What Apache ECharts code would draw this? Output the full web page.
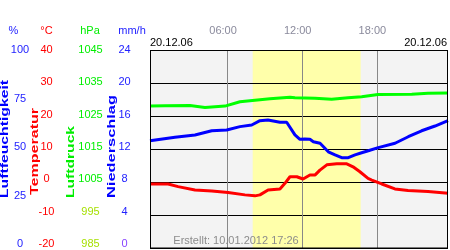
<!DOCTYPE html>
<html><head><meta charset="utf-8">
<script src="https://cdn.jsdelivr.net/npm/echarts@6/dist/echarts.min.js"></script>
<style>html,body{margin:0;padding:0;background:#fff}#c{width:450px;height:250px}</style>
</head><body><div id="c"></div>
<script>
// ---- data (hours of the day, values) ----
const tempHours = [-0.15,1.3,2.1,3.45,4.8,6.1,7.45,8.25,8.65,9.3,10.25,10.65,11.05,11.6,12.1,12.65,13.05,13.45,14.0,14.8,15.6,16.1,16.65,17.3,17.6,18.4,19.45,20.5,22.1,23.7];
const tempValues = [-0.6,-0.6,-1.4,-2.4,-2.7,-3.2,-3.9,-4.2,-3.9,-2.4,-2.1,-0.4,1.6,1.6,0.9,2.1,2.1,3.6,5.2,5.5,5.5,4.6,3.1,1.1,0.6,-0.6,-2.1,-2.6,-2.9,-3.4];
const humHours = [-0.15,1.85,3.45,4.79,5.99,7.05,7.99,8.65,9.29,10.25,10.79,11.45,11.85,12.25,12.65,12.92,13.46,14.12,14.66,15.19,15.72,16.26,16.79,17.32,18.12,19.46,20.52,21.59,22.66,23.7];
const humValues = [54.2,55.9,57.1,59.2,59.6,61.3,62.1,64.3,64.6,63.5,63.5,57.1,54.9,55.0,54.9,53.7,52.9,48.6,47.0,45.6,45.6,47.0,48.1,49.1,50.7,52.9,56.2,59.2,61.6,64.3];
const presHours = [-0.15,1.05,3.05,4.25,5.85,7.05,8.25,9.45,11.05,11.45,13.05,14.39,15.7,16.79,18.1,20.8,22.1,23.7];
const presValues = [1028.0,1028.1,1028.2,1027.6,1028.0,1029.3,1029.8,1030.2,1030.7,1030.5,1030.4,1030.1,1030.5,1030.8,1031.5,1031.6,1031.9,1032.0];
const daylight = [8.07, 16.71];
const hourLines = [6, 12, 18];
const timeLabels = ['', '06:00', '12:00', '18:00', ''];
const humLabels = ['0','25','50','75','100'];
const tempLabels = ['-20','-10','0','10','20','30','40'];
const presLabels = ['985','995','1005','1015','1025','1035','1045'];
const rainLabels = ['0','4','8','12','16','20','24'];
const dateText = '20.12.06';
const createdText = 'Erstellt: 10.01.2012 17:26';

const FONT = '"Liberation Sans", Arial, sans-serif';
const zip = (h, v) => h.map((x, i) => [x, v[i]]);

function labelAxis(data, center, color) {
  return {gridIndex: 2, type: 'category', data: data, boundaryGap: false, position: 'left',
    offset: 140 - center, axisLine: {show: false}, axisTick: {show: false}, splitLine: {show: false},
    axisLabel: {interval: 0, margin: 0, align: 'center', color: color, fontSize: 11, fontFamily: FONT}};
}
const mctx = document.createElement('canvas').getContext('2d');
function vtext(str, cx, yStart, len, color) {
  mctx.font = 'bold 10px ' + FONT;
  const w = mctx.measureText(str).width;
  return {type: 'text', x: cx, y: yStart, rotation: Math.PI / 2, scaleX: len / w, z: 10, silent: true,
    style: {text: str, fill: color, fontSize: 10, fontWeight: 'bold', fontFamily: FONT, align: 'left', verticalAlign: 'middle'}};
}
function htext(str, x, y, color, align) {
  return {type: 'text', x: x, y: y, z: 10, silent: true,
    style: {text: str, fill: color, fontSize: 11, fontFamily: FONT, align: align, verticalAlign: 'middle'}};
}

const chart = echarts.init(document.getElementById('c'), null, {renderer: 'canvas'});
chart.setOption({
  animation: false,
  grid: [
    {left: 150, top: 50, width: 298, height: 198, show: false},
    {left: 148.4, top: 50, width: 301.2, height: 198, show: false},
    {left: 140, top: 50, width: 5, height: 194, show: false}
  ],
  xAxis: [
    {gridIndex: 0, type: 'value', min: -0.15, max: 23.7, show: false},
    {gridIndex: 1, type: 'category', data: timeLabels, boundaryGap: false, position: 'top',
      axisLine: {show: false}, axisTick: {show: false}, splitLine: {show: false},
      axisLabel: {interval: 0, margin: 14, color: '#8a8a9c', fontSize: 11, fontFamily: FONT}},
    {gridIndex: 2, type: 'value', show: false}
  ],
  yAxis: [
    {gridIndex: 0, type: 'value', min: -20, max: 40, interval: 10, z: 1,
      axisLine: {show: false}, axisTick: {show: false}, axisLabel: {show: false},
      splitLine: {show: true, lineStyle: {color: '#000', width: 1}}},
    {gridIndex: 0, type: 'value', min: 985, max: 1045, show: false},
    {gridIndex: 0, type: 'value', min: 0, max: 100, show: false},
    {gridIndex: 1, type: 'value', show: false},
    labelAxis(humLabels, 20, '#2222ff'),
    labelAxis(tempLabels, 46.5, '#ff0000'),
    labelAxis(presLabels, 90.5, v => (v === '985' || v === '995') ? '#a6e000' : '#00ee00'),
    labelAxis(rainLabels, 124.5, v => v === '0' ? '#8844ff' : '#2222ff')
  ],
  series: [
    {type: 'line', xAxisIndex: 0, yAxisIndex: 0, data: [], silent: true,
      markArea: {silent: true, z: 0, data: [
        [{xAxis: -0.15, itemStyle: {color: '#f3f3f3'}}, {xAxis: 23.7}],
        [{xAxis: daylight[0], itemStyle: {color: '#ffffaa'}}, {xAxis: daylight[1]}]
      ]}},
    {type: 'line', xAxisIndex: 0, yAxisIndex: 0, data: [], silent: true,
      markLine: {silent: true, z: 1, symbol: 'none', label: {show: false},
        lineStyle: {color: '#888888', width: 1, type: 'solid'},
        data: hourLines.map(h => ({xAxis: h}))}},
    {type: 'line', xAxisIndex: 0, yAxisIndex: 2, data: zip(humHours, humValues), showSymbol: false, silent: true, z: 3,
      lineStyle: {color: '#0000ff', width: 3}},
    {type: 'line', xAxisIndex: 0, yAxisIndex: 1, data: zip(presHours, presValues), showSymbol: false, silent: true, z: 3,
      lineStyle: {color: '#00ff00', width: 3}},
    {type: 'line', xAxisIndex: 0, yAxisIndex: 0, data: zip(tempHours, tempValues), showSymbol: false, silent: true, z: 3,
      lineStyle: {color: '#ff0000', width: 3}}
  ],
  graphic: [
    {type: 'rect', z: 10, silent: true, shape: {x: 150.5, y: 50.5, width: 297, height: 197.5},
      style: {fill: null, stroke: '#000', lineWidth: 1}},
    vtext('Luftfeuchtigkeit', 5.5, 198, 118, '#0000ff'),
    vtext('Temperatur', 35.5, 195, 87, '#ff0000'),
    vtext('Luftdruck', 71, 198, 72, '#00ee00'),
    vtext('Niederschlag', 112.5, 198, 103, '#0000ff'),
    htext('%', 13.5, 31, '#2222ff', 'center'),
    htext('°C', 46.5, 31, '#ff0000', 'center'),
    htext('hPa', 90, 31, '#00ee00', 'center'),
    htext('mm/h', 132, 31, '#2222ff', 'center'),
    htext(dateText, 150, 43, '#000000', 'left'),
    htext(dateText, 447, 43, '#000000', 'right'),
    htext(createdText, 236, 241, '#8c8c8c', 'center')
  ]
});
</script></body></html>
